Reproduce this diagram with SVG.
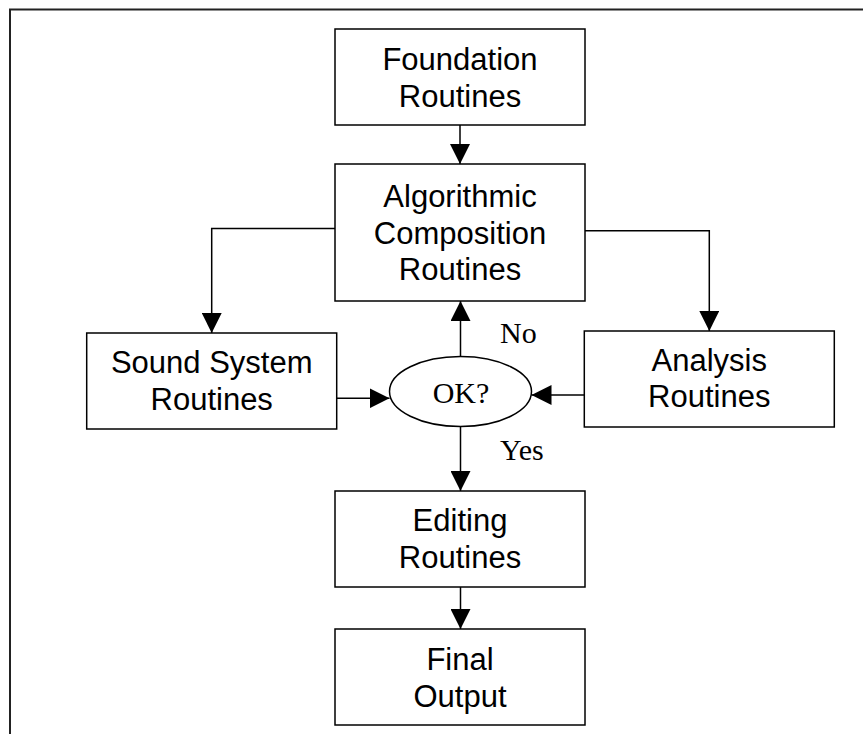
<svg xmlns="http://www.w3.org/2000/svg" width="863" height="734" viewBox="0 0 863 734">
<style>
.box{fill:#fff;stroke:#000;stroke-width:1.5}
.lbl{font-family:"Liberation Sans",Arial,sans-serif;font-size:31px;text-anchor:middle;fill:#000}
.tl{font-family:"Liberation Serif","Times New Roman",serif;font-size:30px;fill:#000}
.c{fill:none;stroke:#000;stroke-width:1.5}
</style>
<defs>
<marker id="ah" markerUnits="userSpaceOnUse" markerWidth="20" markerHeight="20" refX="20" refY="10" orient="auto">
<path d="M0,0 L20,10 L0,20 z" fill="#000"/>
</marker>
</defs>
<rect width="863" height="734" fill="#fff"/>
<path d="M10,734 V9.5 H863" fill="none" stroke="#222" stroke-width="2"/>
<g id="connectors">
<path class="c" d="M460,125 V164" marker-end="url(#ah)"/>
<path class="c" d="M335,228.5 H211.7 V333" marker-end="url(#ah)"/>
<path class="c" d="M585,230.7 H709.3 V331" marker-end="url(#ah)"/>
<path class="c" d="M336.7,398.3 H389.5" marker-end="url(#ah)"/>
<path class="c" d="M584.3,395 H531.5" marker-end="url(#ah)"/>
<path class="c" d="M460.5,356.5 V301" marker-end="url(#ah)"/>
<path class="c" d="M460.5,426.5 V491" marker-end="url(#ah)"/>
<path class="c" d="M460.5,586.7 V629" marker-end="url(#ah)"/>
<text class="tl" x="500" y="343">No</text>
<text class="tl" x="500" y="460">Yes</text>
</g>
<g id="foundation">
<rect class="box" x="335" y="29" width="250" height="96"/>
<text class="lbl" x="460" y="70">Foundation</text>
<text class="lbl" x="460" y="107">Routines</text>
</g>
<g id="algorithmic">
<rect class="box" x="335" y="164" width="250" height="137"/>
<text class="lbl" x="460" y="207">Algorithmic</text>
<text class="lbl" x="460" y="243.5">Composition</text>
<text class="lbl" x="460" y="280">Routines</text>
</g>
<g id="sound">
<rect class="box" x="86.7" y="333" width="250" height="96"/>
<text class="lbl" x="211.7" y="372.7">Sound System</text>
<text class="lbl" x="211.7" y="410">Routines</text>
</g>
<g id="analysis">
<rect class="box" x="584.3" y="331" width="250" height="96"/>
<text class="lbl" x="709.3" y="371">Analysis</text>
<text class="lbl" x="709.3" y="407.3">Routines</text>
</g>
<g id="ok">
<ellipse cx="460.5" cy="391.5" rx="71" ry="35" fill="#fff" stroke="#000" stroke-width="1.5"/>
<text class="tl" x="461" y="403" text-anchor="middle">OK?</text>
</g>
<g id="editing">
<rect class="box" x="335" y="491" width="250" height="96"/>
<text class="lbl" x="460" y="531">Editing</text>
<text class="lbl" x="460" y="568">Routines</text>
</g>
<g id="final">
<rect class="box" x="335" y="629" width="250" height="96"/>
<text class="lbl" x="460" y="670">Final</text>
<text class="lbl" x="460" y="706.7">Output</text>
</g>
</svg>
